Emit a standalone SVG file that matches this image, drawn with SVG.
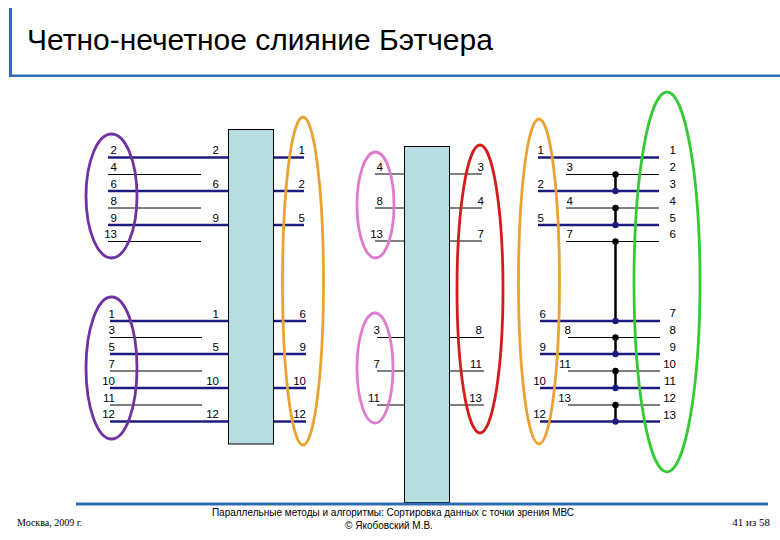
<svg xmlns="http://www.w3.org/2000/svg" width="780" height="540" viewBox="0 0 780 540">
<style>
.t{font-family:"Liberation Sans",Arial,sans-serif;font-size:11.5px;fill:#000;text-anchor:end}
.bl{stroke:#1c1c80;stroke-width:2.5;fill:none}
.k{stroke:#000;stroke-width:1;fill:none}
.ov{fill:none;stroke-width:2.8}
.box{fill:#b7dde0;stroke:#000;stroke-width:1}
.vd{stroke:#000;stroke-width:2.5}
.dk{fill:#000}
.db{fill:#1c1c80}
.bar{fill:#2e6db4}
</style>
<rect width="780" height="540" fill="#fff"/>
<g id="header">
<rect class="bar" x="9" y="8" width="3" height="69"/>
<rect class="bar" x="9" y="74.5" width="771" height="2.5"/>
<text x="27" y="50" style="font-family:'Liberation Sans',Arial,sans-serif;font-size:30px;fill:#000">Четно-нечетное слияние Бэтчера</text>
</g>
<g id="connectors">
<line class="bl" x1="108" y1="157.5" x2="228" y2="157.5"/>
<line class="bl" x1="108" y1="191" x2="228" y2="191"/>
<line class="bl" x1="108" y1="225" x2="228" y2="225"/>
<line class="k" x1="108" y1="174.5" x2="201" y2="174.5"/>
<line class="k" x1="108" y1="208" x2="201" y2="208"/>
<line class="k" x1="108" y1="241.5" x2="201" y2="241.5"/>
<line class="bl" x1="110" y1="321" x2="228" y2="321"/>
<line class="bl" x1="110" y1="354" x2="228" y2="354"/>
<line class="bl" x1="110" y1="388" x2="228" y2="388"/>
<line class="bl" x1="110" y1="421.5" x2="228" y2="421.5"/>
<line class="k" x1="110" y1="337.5" x2="202" y2="337.5"/>
<line class="k" x1="110" y1="371" x2="202" y2="371"/>
<line class="k" x1="110" y1="405" x2="202" y2="405"/>
<line class="bl" x1="273" y1="157.5" x2="304" y2="157.5"/>
<line class="bl" x1="273" y1="191" x2="304" y2="191"/>
<line class="bl" x1="273" y1="225" x2="304" y2="225"/>
<line class="bl" x1="273" y1="321" x2="306" y2="321"/>
<line class="bl" x1="273" y1="354" x2="306" y2="354"/>
<line class="bl" x1="273" y1="388" x2="306" y2="388"/>
<line class="bl" x1="273" y1="421.5" x2="306" y2="421.5"/>
<line class="k" x1="375" y1="174" x2="404" y2="174"/>
<line class="k" x1="375" y1="208" x2="404" y2="208"/>
<line class="k" x1="375" y1="241" x2="404" y2="241"/>
<line class="k" x1="377" y1="337.5" x2="404" y2="337.5"/>
<line class="k" x1="377" y1="371" x2="404" y2="371"/>
<line class="k" x1="377" y1="405" x2="404" y2="405"/>
<line class="k" x1="449" y1="174" x2="482" y2="174"/>
<line class="k" x1="449" y1="208" x2="482" y2="208"/>
<line class="k" x1="449" y1="241" x2="482" y2="241"/>
<line class="k" x1="449" y1="337.5" x2="484" y2="337.5"/>
<line class="k" x1="449" y1="371" x2="484" y2="371"/>
<line class="k" x1="449" y1="405" x2="484" y2="405"/>
<line class="bl" x1="538" y1="157.5" x2="659" y2="157.5"/>
<line class="bl" x1="538" y1="191" x2="659" y2="191"/>
<line class="bl" x1="538" y1="225" x2="659" y2="225"/>
<line class="bl" x1="540" y1="321" x2="660" y2="321"/>
<line class="bl" x1="540" y1="354" x2="660" y2="354"/>
<line class="bl" x1="540" y1="388" x2="660" y2="388"/>
<line class="bl" x1="540" y1="421.5" x2="660" y2="421.5"/>
<line class="k" x1="566" y1="174.5" x2="659" y2="174.5"/>
<line class="k" x1="566" y1="208" x2="659" y2="208"/>
<line class="k" x1="566" y1="241.5" x2="659" y2="241.5"/>
<line class="k" x1="568" y1="337.5" x2="660" y2="337.5"/>
<line class="k" x1="568" y1="371" x2="660" y2="371"/>
<line class="k" x1="568" y1="405" x2="660" y2="405"/>
<line class="vd" x1="615.5" y1="174.5" x2="615.5" y2="191"/>
<line class="vd" x1="615.5" y1="208" x2="615.5" y2="225"/>
<line class="vd" x1="615.5" y1="241.5" x2="615.5" y2="321"/>
<line class="vd" x1="615.5" y1="337.5" x2="615.5" y2="354"/>
<line class="vd" x1="615.5" y1="371" x2="615.5" y2="388"/>
<line class="vd" x1="615.5" y1="405" x2="615.5" y2="421.5"/>
<circle class="dk" cx="615.5" cy="174.5" r="3.2"/>
<circle class="dk" cx="615.5" cy="208" r="3.2"/>
<circle class="dk" cx="615.5" cy="241.5" r="3.2"/>
<circle class="dk" cx="615.5" cy="337.5" r="3.2"/>
<circle class="dk" cx="615.5" cy="371" r="3.2"/>
<circle class="dk" cx="615.5" cy="405" r="3.2"/>
<circle class="db" cx="615.5" cy="191" r="3.2"/>
<circle class="db" cx="615.5" cy="225" r="3.2"/>
<circle class="db" cx="615.5" cy="321" r="3.2"/>
<circle class="db" cx="615.5" cy="354" r="3.2"/>
<circle class="db" cx="615.5" cy="388" r="3.2"/>
<circle class="db" cx="615.5" cy="421.5" r="3.2"/>
</g>
<g id="box1"><rect class="box" x="228.5" y="129.5" width="45" height="314.5"/></g>
<g id="box2"><rect class="box" x="404.5" y="146.5" width="45" height="356"/></g>
<g id="footer">
<rect class="bar" x="76" y="502.5" width="692" height="3"/>
<text x="17" y="526" style="font-family:'Liberation Serif','Times New Roman',serif;font-size:10px;fill:#000">Москва, 2009 г.</text>
<text x="393" y="516" text-anchor="middle" style="font-family:'Liberation Sans',Arial,sans-serif;font-size:10px;fill:#000">Параллельные методы и алгоритмы: Сортировка данных с точки зрения МВС</text>
<text x="389" y="529" text-anchor="middle" style="font-family:'Liberation Sans',Arial,sans-serif;font-size:10px;fill:#000">© Якобовский М.В.</text>
<text x="770" y="526" text-anchor="end" style="font-family:'Liberation Serif','Times New Roman',serif;font-size:11px;fill:#000">41 из 58</text>
</g>
<g id="ovals">
<ellipse id="purple-top" class="ov" stroke="#7033a0" cx="111.5" cy="196" rx="25.5" ry="62"/>
<ellipse id="purple-bottom" class="ov" stroke="#7033a0" cx="111.5" cy="368" rx="25.5" ry="71"/>
<ellipse id="orange-left" class="ov" stroke="#eba232" cx="303" cy="281" rx="20.5" ry="164"/>
<ellipse id="pink-top" class="ov" stroke="#e07ccb" cx="375.5" cy="205" rx="18.5" ry="53"/>
<ellipse id="pink-bottom" class="ov" stroke="#e07ccb" cx="375" cy="368" rx="18" ry="55"/>
<ellipse id="red" class="ov" stroke="#d41c1c" cx="480" cy="289" rx="23" ry="144"/>
<ellipse id="orange-right" class="ov" stroke="#eba232" cx="539" cy="281.5" rx="20.5" ry="162.5"/>
<ellipse id="green" class="ov" stroke="#36c936" cx="667" cy="282" rx="33" ry="190"/>
</g>
<g id="labels">
<text class="t" x="117" y="154">2</text>
<text class="t" x="117" y="170.5">4</text>
<text class="t" x="117" y="187.5">6</text>
<text class="t" x="117" y="204.5">8</text>
<text class="t" x="117" y="221.5">9</text>
<text class="t" x="117" y="238">13</text>
<text class="t" x="115" y="317.5">1</text>
<text class="t" x="115" y="334">3</text>
<text class="t" x="115" y="350.5">5</text>
<text class="t" x="115" y="367.5">7</text>
<text class="t" x="115" y="384.5">10</text>
<text class="t" x="115" y="401.5">11</text>
<text class="t" x="115" y="418">12</text>
<text class="t" x="219" y="154">2</text>
<text class="t" x="219" y="187.5">6</text>
<text class="t" x="219" y="221.5">9</text>
<text class="t" x="219" y="317.5">1</text>
<text class="t" x="219" y="350.5">5</text>
<text class="t" x="219" y="384.5">10</text>
<text class="t" x="219" y="418">12</text>
<text class="t" x="305" y="154">1</text>
<text class="t" x="305" y="187.5">2</text>
<text class="t" x="305" y="221.5">5</text>
<text class="t" x="306" y="317.5">6</text>
<text class="t" x="306" y="350.5">9</text>
<text class="t" x="306" y="384.5">10</text>
<text class="t" x="306" y="418">12</text>
<text class="t" x="383" y="170.5">4</text>
<text class="t" x="383" y="204.5">8</text>
<text class="t" x="383" y="238">13</text>
<text class="t" x="380" y="334">3</text>
<text class="t" x="380" y="367.5">7</text>
<text class="t" x="380" y="401.5">11</text>
<text class="t" x="484" y="170.5">3</text>
<text class="t" x="484" y="204.5">4</text>
<text class="t" x="484" y="238">7</text>
<text class="t" x="482" y="334">8</text>
<text class="t" x="482" y="367.5">11</text>
<text class="t" x="482" y="401.5">13</text>
<text class="t" x="544" y="154">1</text>
<text class="t" x="544" y="187.5">2</text>
<text class="t" x="544" y="221.5">5</text>
<text class="t" x="546" y="317.5">6</text>
<text class="t" x="546" y="350.5">9</text>
<text class="t" x="546" y="384.5">10</text>
<text class="t" x="546" y="418">12</text>
<text class="t" x="573" y="171">3</text>
<text class="t" x="573" y="204.5">4</text>
<text class="t" x="573" y="238">7</text>
<text class="t" x="571" y="334">8</text>
<text class="t" x="571" y="367.5">11</text>
<text class="t" x="571" y="401.5">13</text>
<text class="t" x="676" y="153.5">1</text>
<text class="t" x="676" y="171">2</text>
<text class="t" x="676" y="187.5">3</text>
<text class="t" x="676" y="204.5">4</text>
<text class="t" x="676" y="221.5">5</text>
<text class="t" x="676" y="238">6</text>
<text class="t" x="676" y="317">7</text>
<text class="t" x="676" y="333.5">8</text>
<text class="t" x="676" y="350.5">9</text>
<text class="t" x="676" y="367.5">10</text>
<text class="t" x="676" y="384.5">11</text>
<text class="t" x="676" y="401.5">12</text>
<text class="t" x="676" y="418.5">13</text>
</g>
</svg>
